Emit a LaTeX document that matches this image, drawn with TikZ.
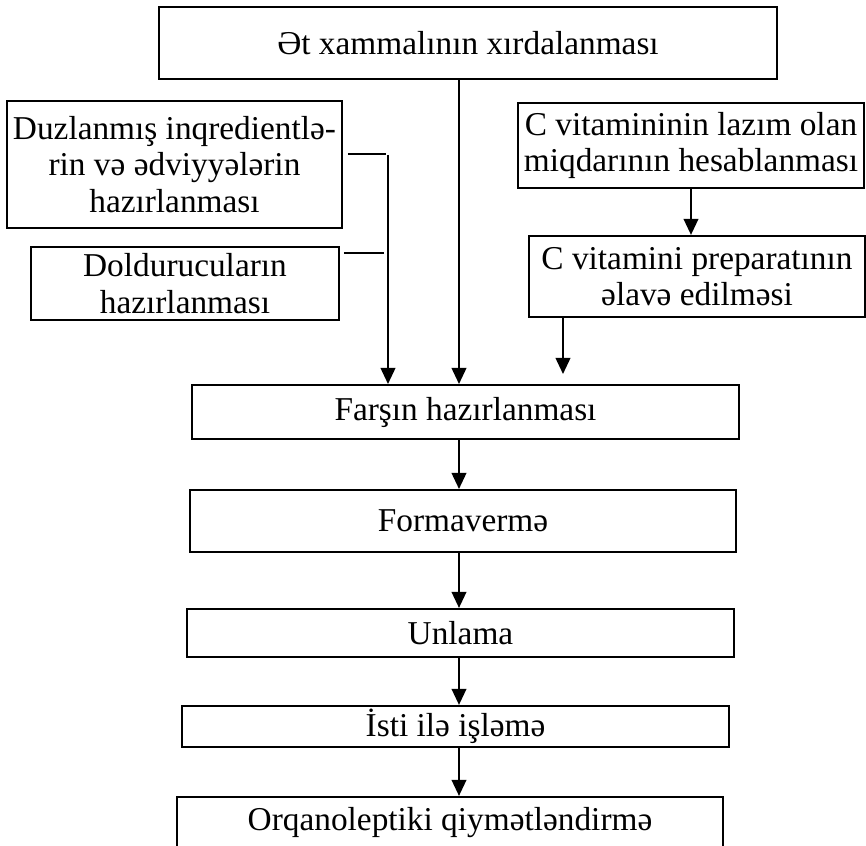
\documentclass[tikz,border=0pt]{standalone}
\usepackage{fontspec}
\setmainfont{Liberation Serif}
\usepackage{tikz}
\usetikzlibrary{arrows.meta, positioning, calc}

\begin{document}
\begin{tikzpicture}[
    x=0.36pt, y=-0.36pt,
    box/.style={draw, line width=0.7pt, inner xsep=2pt, inner ysep=0pt, align=center, font=\fontsize{12}{13.2}\selectfont},
    arrow/.style={-{Triangle[length=5.8pt, width=5.2pt]}, line width=0.9pt},
    stub/.style={line width=0.9pt}
]
\useasboundingbox (0,0) rectangle (866,846);

\node[box, minimum width=222.5pt, minimum height=25.9pt] (raw) at (468,43) {Ət xammalının xırdalanması};
\node[box, minimum width=120.6pt, minimum height=45.7pt] (salt) at (174.5,164.5) {Duzlanmış inqredientlə-\\rin və ədviyyələrin\\hazırlanması};
\node[box, minimum width=110.9pt, minimum height=26.3pt] (fill) at (185,283.5) {Doldurucuların\\hazırlanması};
\node[box, minimum width=124.6pt, minimum height=30.6pt] (vitcalc) at (691,145.5) {C vitamininin lazım olan\\miqdarının hesablanması};
\node[box, minimum width=121pt, minimum height=29.2pt] (vitadd) at (697,276.5) {C vitamini preparatının\\əlavə edilməsi};
\node[box, minimum width=196.9pt, minimum height=19.4pt] (farsh) at (465.5,412) {Farşın hazırlanması};
\node[box, minimum width=196.6pt, minimum height=22.3pt] (shape) at (463,521) {Formavermə};
\node[box, minimum width=196.9pt, minimum height=17.3pt] (flour) at (460.5,633) {Unlama};
\node[box, minimum width=196.9pt, minimum height=14.8pt] (heat) at (455.5,726.5) {İsti ilə işləmə};
\node[box, anchor=north, minimum width=196.6pt, text height=9pt, text depth=40pt, inner ysep=3pt] (eval) at (450,796) {Orqanoleptiki qiymətləndirmə};

\coordinate (spine) at (459,0);
\coordinate (join) at (388,155);
\coordinate (vitx) at (563,0);

\draw[arrow] (raw.south -| spine) -- (farsh.north -| spine);
\draw[stub] (salt.north east) ++(5,54) -- ++(38,0);
\draw[stub] (fill.north east) ++(4,7) -- ++(40,0);
\draw[arrow] (join) -- (join |- farsh.north);
\draw[arrow] (vitcalc.south) -- (vitcalc.south |- vitadd.north);
\draw[arrow] (vitadd.south -| vitx) -- ([yshift=3.6pt]farsh.north -| vitx);
\draw[arrow] (farsh.south -| spine) -- (shape.north -| spine);
\draw[arrow] (shape.south -| spine) -- (flour.north -| spine);
\draw[arrow] (flour.south -| spine) -- (heat.north -| spine);
\draw[arrow] (heat.south -| spine) -- (eval.north -| spine);
\end{tikzpicture}
\end{document}
